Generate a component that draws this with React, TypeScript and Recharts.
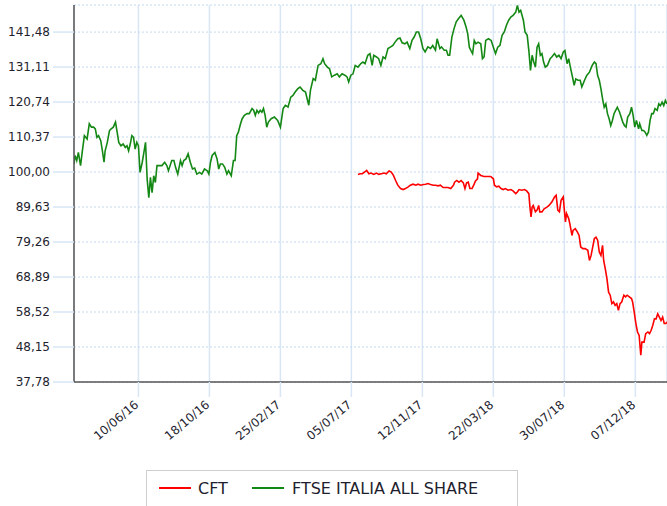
import React from 'react';
import { LineChart, Line, XAxis, YAxis, CartesianGrid } from 'recharts';

// Day offsets are counted from the first date on the axis (13/02/2016).
const startDate = '2016-02-13';
const endDay = 1086;

const xTickLabels = ['10/06/16', '18/10/16', '25/02/17', '05/07/17', '12/11/17', '22/03/18', '30/07/18', '07/12/18'];
const yTicks = [37.78, 48.15, 58.52, 68.89, 79.26, 89.63, 100.0, 110.37, 120.74, 131.11, 141.48];
const yMax = 149.5;

const seriesNames = ['CFT', 'FTSE ITALIA ALL SHARE'];
const seriesColors = ['#ff0000', '#148814'];

const ftseDays = [
  0, 2, 5, 8, 12, 15, 19, 24, 28, 32, 36, 39, 42, 45, 49, 52, 55, 57, 61, 65, 68, 72, 76, 79, 82, 86, 90, 94, 97, 100,
  103, 106, 109, 112, 115, 118, 121, 125, 128, 131, 134, 137, 140, 143, 146, 149, 152, 156, 161, 166, 170, 173, 176, 179, 183, 186, 190, 195, 198, 201,
  205, 209, 213, 217, 221, 225, 230, 234, 239, 244, 247, 250, 253, 258, 262, 265, 268, 272, 276, 280, 283, 288, 292, 295, 298, 301, 305, 308, 312, 317,
  321, 326, 329, 332, 335, 338, 341, 344, 347, 350, 353, 356,
  361, 367, 373, 378, 383, 387, 392, 397, 401, 405, 410, 414, 419, 424, 427, 430, 433, 438, 442, 447, 452, 456, 459, 464, 468, 472, 477, 482, 486, 491,
  496, 500, 503, 507, 511, 515, 520, 525, 529, 533, 538, 542, 546, 549, 554, 558, 562, 566, 570, 575, 580, 584, 588, 593, 597, 601, 606, 610, 615, 619,
  623, 627, 631, 635, 639, 643, 648, 653, 657, 662, 665, 670, 673, 678, 682, 685, 688, 692, 696, 700, 704, 709, 714,
  718, 721, 724, 727, 730, 733, 736, 740, 745, 748, 751, 754, 759, 764, 768, 772, 776, 780, 784, 788, 792, 796, 800, 804, 809, 812, 815, 818, 823, 826,
  830, 833, 836, 839, 842, 845, 848, 851, 854, 857, 860, 863, 867, 872, 875, 880, 884, 888, 892, 896, 899, 903, 906, 909, 913, 916, 919, 923, 927, 930,
  935, 939, 944, 949, 953, 956, 959, 962, 965, 968, 971, 974, 977, 980, 983, 986, 989, 992, 995, 999, 1002, 1005, 1008, 1011, 1014, 1018, 1021, 1024, 1027, 1030,
  1034, 1036, 1040, 1043, 1046, 1049, 1052, 1055, 1058, 1061, 1064, 1068, 1071, 1074, 1077, 1080, 1083, 1086,
];
const ftseValues = [
  102.4, 104.9, 103.4, 105.8, 101.9, 105.8, 110.8, 109.8, 114.3, 113.3, 113.3, 112.8, 110.3, 110.8, 109.3, 106.3, 102.9, 106.3, 108.8, 112.3, 112.8, 113.3, 114.8, 111.8, 108.8, 107.8, 108.3, 107.3, 107.8, 106.3,
  108.3, 110.8, 110.3, 106.8, 108.8, 107.8, 99.9, 102.9, 105.8, 108.8, 97.9, 92.4, 98.4, 93.9, 98.9, 96.9, 101.9, 101.9, 101.9, 102.9, 101.9, 100.4, 101.9, 103.4, 103.4, 101.4, 99.4, 103.4, 101.9, 103.4,
  103.9, 105.4, 102.9, 100.9, 101.2, 99.4, 99.9, 99.4, 100.9, 100.4, 99.4, 102.9, 104.9, 105.8, 103.9, 100.9, 102.4, 102.4, 101.4, 99.4, 100.4, 98.9, 103.4, 103.4, 110.8, 111.8, 114.3, 115.8, 116.8, 117.3,
  117.3, 118.8, 118.3, 116.8, 118.3, 117.5, 118.3, 117.7, 118.8, 116.8, 113.3, 114.8,
  115.8, 116.3, 115.3, 113.3, 118.8, 119.8, 119.3, 122.2, 122.7, 123.7, 124.7, 125.2, 124.2, 123.7, 121.7, 119.8, 124.2, 127.7, 127.2, 131.6, 132.1, 133.6, 132.1, 131.1, 130.6, 128.2, 128.7, 129.1, 128.2, 129.1,
  128.7, 128.2, 126.7, 128.7, 129.1, 131.6, 131.1, 132.1, 132.6, 132.1, 134.6, 135.1, 131.6, 134.6, 134.1, 133.6, 131.6, 134.1, 133.6, 136.6, 137.1, 137.5, 138.5, 139.5, 139.7, 138.3, 138.0, 138.5, 136.6, 139.0,
  140.0, 141.5, 141.5, 139.5, 136.6, 135.6, 137.1, 136.6, 137.5, 136.1, 139.5, 136.6, 137.1, 136.1, 136.1, 134.6, 134.6, 140.0, 142.5, 144.5, 145.4, 146.4, 145.0,
  143.0, 141.0, 137.0, 136.0, 135.1, 139.0, 138.0, 138.5, 138.0, 133.6, 134.1, 139.0, 139.5, 139.0, 137.0, 135.1, 137.0, 137.5, 140.5, 141.5, 143.5, 145.0, 145.9, 146.4, 147.4, 149.4, 147.4, 147.9, 145.0, 141.5,
  140.5, 136.0, 130.1, 134.6, 132.6, 131.1, 137.0, 138.0, 134.6, 135.1, 132.6, 131.1, 131.6, 133.6, 134.1, 135.1, 134.1, 134.6, 133.6, 135.6, 136.0, 132.1, 133.6, 131.1, 128.1, 125.7, 127.6, 127.2, 127.2, 125.2,
  127.2, 128.6, 129.6, 131.6, 132.6, 132.1, 128.6, 127.2, 124.7, 121.7, 119.2, 120.2, 117.3, 115.8, 113.8, 115.3, 117.3, 118.3, 119.2, 117.8, 116.3, 114.8, 113.8, 113.3, 116.3, 117.3, 119.2, 116.8, 113.3, 115.3,
  112.8, 114.3, 112.3, 112.3, 111.8, 110.9, 111.8, 115.3, 117.3, 117.3, 118.8, 118.3, 120.2, 119.7, 120.7, 119.7, 121.2, 120.2,
];

const cftDays = [
  520, 524, 528, 532, 536, 540, 544, 549, 554, 558, 563, 568, 572, 577, 581, 585, 589, 593, 598, 603, 607, 612, 616, 621, 626, 630, 635, 640, 644, 648,
  653, 658, 662, 667, 671, 676, 681, 685, 690, 695, 697, 701, 705, 709, 713, 716, 719, 722, 725, 729, 732, 735, 739, 740, 745, 751, 757, 763, 768, 770,
  774, 778, 782, 786, 790, 795, 800, 804, 809, 812, 815, 820, 825, 829, 833, 835, 837, 839, 841, 845, 848, 851, 853, 857, 861, 866, 870, 875, 880, 883,
  886, 889, 892, 896, 898, 900, 902, 906, 908, 912, 914, 918, 922, 925, 928, 932, 936, 941, 944, 947, 950, 953, 956, 959, 962, 965, 968, 970, 973, 976,
  979, 982, 985, 988, 991, 994, 997, 1000, 1003, 1007, 1010, 1013, 1017, 1021, 1023, 1026, 1029, 1032, 1035, 1038, 1040, 1044, 1047, 1051, 1054, 1057, 1060, 1063, 1066, 1069,
  1072, 1075, 1078, 1081, 1084, 1086,
];
const cftValues = [
  99.3, 99.5, 99.5, 100.0, 100.5, 99.5, 99.7, 99.3, 99.7, 99.3, 99.5, 99.7, 99.5, 100.3, 100.0, 99.0, 97.5, 96.1, 95.1, 94.8, 95.1, 95.6, 96.1, 96.4, 96.1, 96.4, 96.1, 96.3, 96.4, 96.6,
  96.3, 96.1, 96.1, 95.9, 96.1, 95.4, 95.4, 95.4, 95.1, 96.1, 97.0, 97.5, 97.0, 97.5, 96.8, 95.1, 96.8, 97.0, 95.1, 95.1, 96.1, 97.3, 98.0, 99.7, 99.0, 98.7, 98.7, 98.7, 98.0, 96.1,
  95.6, 95.8, 95.1, 94.8, 95.1, 94.6, 94.8, 94.4, 93.6, 94.1, 94.8, 94.6, 94.8, 94.4, 93.6, 89.6, 86.7, 89.6, 90.1, 88.2, 88.7, 90.1, 88.2, 88.2, 89.1, 89.6, 90.1, 91.1, 92.6, 93.1,
  88.7, 88.2, 91.6, 92.6, 88.7, 85.2, 87.7, 86.2, 84.7, 81.2, 82.7, 83.2, 82.2, 81.2, 77.8, 77.3, 77.3, 76.8, 73.8, 75.3, 77.8, 80.3, 80.7, 79.8, 76.3, 75.3, 78.3, 73.8, 71.3, 68.4,
  64.4, 63.5, 61.0, 61.5, 60.5, 61.0, 59.0, 61.0, 61.5, 63.5, 63.0, 63.5, 63.0, 62.5, 61.5, 58.5, 55.1, 52.6, 51.6, 45.7, 49.6, 49.6, 52.1, 52.6, 52.1, 53.1, 54.6, 56.5, 56.5, 58.0,
  57.0, 56.0, 57.0, 55.1, 55.1, 55.6,
];

const DAY_MS = 86400000;
const startMs = Date.parse(startDate + 'T00:00:00Z');
const labelToDay = (s: string) => {
  const [d, m, y] = s.split('/').map(Number);
  return Math.round((Date.UTC(2000 + y, m - 1, d) - startMs) / DAY_MS);
};
const xTicks = xTickLabels.map(labelToDay);
const dayToLabel: Record<number, string> = {};
xTicks.forEach((d, i) => { dayToLabel[d] = xTickLabels[i]; });

const ftseData = ftseDays.map((d, i) => ({ day: d, value: ftseValues[i] }));
const cftData = cftDays.map((d, i) => ({ day: d, value: cftValues[i] }));

const FONT = '"DejaVu Sans", Verdana, sans-serif';
const TEXT = '#1e1e2e';
const GRID = '#d8e6f6';

const XTick = (props: any) => {
  const { x, y, payload } = props;
  const ax = x + 1;
  const ay = y + 7;
  return (
    <text x={ax} y={ay} textAnchor="end" transform={`rotate(-40, ${ax}, ${ay})`} fontSize={12} fontFamily={FONT} fill={TEXT}>
      {dayToLabel[payload.value]}
    </text>
  );
};

const fmtY = (v: number) => v.toFixed(2).replace('.', ',');

export default function App() {
  return (
    <div style={{ position: 'absolute', left: 0, top: 0, width: 667, height: 506, background: '#fff' }}>
      <LineChart width={667} height={506} margin={{ top: 5, right: 0, bottom: 0, left: 0 }}>
        <CartesianGrid horizontal={false} stroke={GRID} strokeWidth={1.5} />
        <CartesianGrid vertical={false} stroke="#c5d9ef" strokeDasharray="2 2" />
        <XAxis
          type="number"
          dataKey="day"
          domain={[0, endDay]}
          ticks={xTicks}
          interval={0}
          allowDataOverflow
          height={124}
          tickSize={15}
          tickLine={{ stroke: GRID, strokeWidth: 1.5 }}
          axisLine={{ stroke: '#555', strokeWidth: 1.5 }}
          tick={<XTick />}
        />
        <YAxis
          type="number"
          domain={[37.78, yMax]}
          ticks={yTicks}
          interval={0}
          allowDataOverflow
          width={74}
          tickSize={21}
          tickMargin={3}
          tickLine={{ stroke: GRID, strokeWidth: 1.5 }}
          axisLine={{ stroke: '#555', strokeWidth: 1.5 }}
          tickFormatter={fmtY}
          tick={{ fontSize: 12, fontFamily: FONT, fill: TEXT }}
        />
        <Line data={cftData} dataKey="value" name={seriesNames[0]} stroke={seriesColors[0]} strokeWidth={1.6} dot={false} isAnimationActive={false} type="linear" />
        <Line data={ftseData} dataKey="value" name={seriesNames[1]} stroke={seriesColors[1]} strokeWidth={1.6} dot={false} isAnimationActive={false} type="linear" />
      </LineChart>
      <svg width={667} height={506} style={{ position: 'absolute', left: 0, top: 0, pointerEvents: 'none' }}>
        <rect x={146.5} y={470.5} width={371} height={50} fill="#fff" stroke="#cfcfcf" strokeWidth={1} />
        <line x1={159} x2={191} y1={488} y2={488} stroke={seriesColors[0]} strokeWidth={2} />
        <text x={198} y={494} fontSize={16} fontFamily={FONT} fill={TEXT}>{seriesNames[0]}</text>
        <line x1={252} x2={284} y1={488} y2={488} stroke={seriesColors[1]} strokeWidth={2} />
        <text x={292} y={494} fontSize={16} fontFamily={FONT} fill={TEXT}>{seriesNames[1]}</text>
      </svg>
    </div>
  );
}
